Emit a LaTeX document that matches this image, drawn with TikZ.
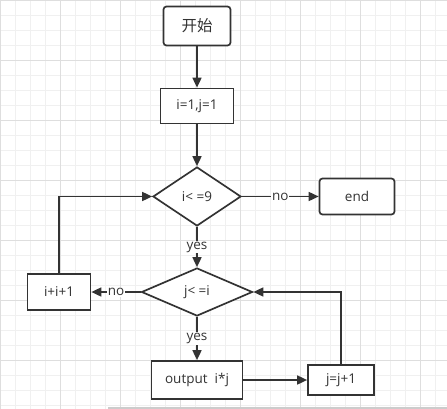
\documentclass[tikz,border=0pt]{standalone}
\usepackage{fontspec}
\setmainfont{Open Sans}
\newfontfamily\cjk{Noto Sans CJK SC}
\usetikzlibrary{shapes.geometric,arrows.meta}

\begin{document}
\begin{tikzpicture}[x=1pt, y=-1pt,
      every node/.style = {align=center, text=black!80,
        font=\fontsize{13.5}{16}\selectfont},
      box/.style = {shape=rectangle, draw=black!80, line width=1.7pt,
        fill=white, inner sep=0pt},
      rbox/.style = {box, rounded corners=3pt},
      cond/.style = {shape=diamond, draw=black!80, line width=1.7pt,
        fill=white, inner sep=0pt},
      lbl/.style = {fill=white, inner sep=1pt},
      arr/.style = {draw=black!80, line width=1.7pt,
        -{Triangle[length=10pt,width=9pt]}}]
  \useasboundingbox (0,0) rectangle (447,409);
  % grid
  \foreach \i in {0,15,...,435} \draw[black!6] (\i,0) -- (\i,409);
  \foreach \i in {0,15,...,405} \draw[black!6] (0,\i) -- (447,\i);
  \foreach \i in {0,60,...,420} \draw[black!13] (\i,0) -- (\i,409);
  \foreach \i in {0,60,...,360} \draw[black!13] (0,\i) -- (447,\i);
  \fill[black!20] (108,406.5) rectangle (447,409);

  \node[rbox, minimum width=67pt, minimum height=39pt] (start) at (197,26)
    {\cjk\fontsize{15.5}{18}\selectfont 开始};
  \node[box, minimum width=73pt, minimum height=35pt] (init) at (197,106) {i=1,j=1};
  \node[cond, minimum width=88pt, minimum height=59pt] (outer) at (197,196.5) {i< =9};
  \node[rbox, minimum width=75pt, minimum height=36pt] (end) at (357,196.5) {end};
  \node[cond, minimum width=111pt, minimum height=48pt] (inner) at (197,292) {j< =i};
  \node[box, minimum width=63pt, minimum height=36pt] (inci) at (59,292) {i+i+1};
  \node[box, minimum width=91pt, minimum height=38pt] (out) at (197,380) {output\ \ i*j};
  \node[box, minimum width=66pt, minimum height=30pt] (incj) at (341,380) {j=j+1};

  \draw[arr] (start) -- (init);
  \draw[arr] (init) -- (outer);
  \draw[arr] (outer) -- node[lbl] {no} (end);
  \draw[arr] (outer) -- node[lbl] {yes} (inner);
  \draw[arr] (inner) -- node[lbl] {no} (inci);
  \draw[arr] (inci) |- (outer);
  \draw[arr] (inner) -- node[lbl] {yes} (out);
  \draw[arr] (out) -- (incj);
  \draw[arr] (incj) |- (inner);
\end{tikzpicture}
\end{document}
